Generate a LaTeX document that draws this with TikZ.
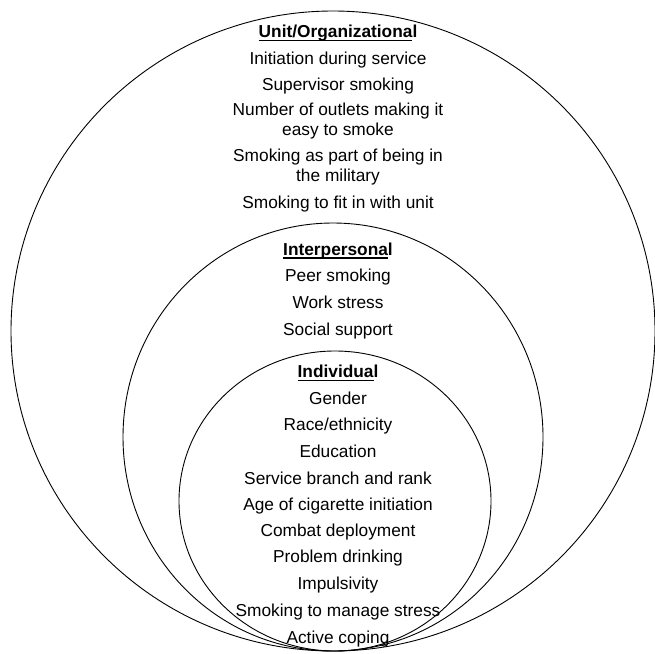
\documentclass[tikz,border=0pt]{standalone}
\usepackage{fontspec}
\setmainfont{Liberation Sans}
\usepackage{tikz}

\newcommand{\ulpart}[1]{\setbox0\hbox{#1}\rlap{\rule[-4pt]{\wd0}{1.6pt}}\box0}

\begin{document}
\begin{tikzpicture}[x=1pt, y=-1pt,
    ring/.style={draw, line width=0.9pt},
    factor/.style={anchor=base, align=center, inner sep=0pt,
        font=\fontsize{17.3}{20}\selectfont},
    level/.style={factor, font=\fontsize{17.3}{20}\selectfont\bfseries}]
\useasboundingbox (0,0) rectangle (655,653);

% three nested levels, touching at the bottom
\draw[ring] (333,331) ellipse [x radius=322pt, y radius=320pt];
\draw[ring] (333,437) ellipse [x radius=210pt, y radius=214pt];
\draw[ring] (335,501) ellipse [x radius=156pt, y radius=150pt];

% unit / organizational
\node[level]  (unit)       at (338,37.3)  {\ulpart{Unit/Organizationa}l};
\node[factor] (initiation) at (338,64)    {Initiation during service};
\node[factor] (supervisor) at (338,90.7)  {Supervisor smoking};
\node[factor] (outlets)    at (338,135)   {Number of outlets making it\\easy to smoke};
\node[factor] (military)   at (338,181.7) {Smoking as part of being in\\the military};
\node[factor] (fitin)      at (338,208.3) {Smoking to fit in with unit};

% interpersonal
\node[level]  (inter)      at (338,255)   {\ulpart{Interpersona}l};
\node[factor] (peer)       at (338,281.7) {Peer smoking};
\node[factor] (work)       at (338,308.3) {Work stress};
\node[factor] (support)    at (338,335)   {Social support};

% individual
\node[level]  (indiv)      at (338,377.3) {\ulpart{Individua}l};
\node[factor] (gender)     at (338,404)   {Gender};
\node[factor] (race)       at (338,430.7) {Race/ethnicity};
\node[factor] (education)  at (338,457.3) {Education};
\node[factor] (branch)     at (338,484)   {Service branch and rank};
\node[factor] (agestart)   at (338,510.7) {Age of cigarette initiation};
\node[factor] (combat)     at (338,536.7) {Combat deployment};
\node[factor] (drinking)   at (338,562.7) {Problem drinking};
\node[factor] (impulse)    at (338,589.3) {Impulsivity};
\node[factor] (stress)     at (338,616.7) {Smoking to manage stress};
\node[factor] (coping)     at (338,643.3) {Active coping};
\end{tikzpicture}
\end{document}
